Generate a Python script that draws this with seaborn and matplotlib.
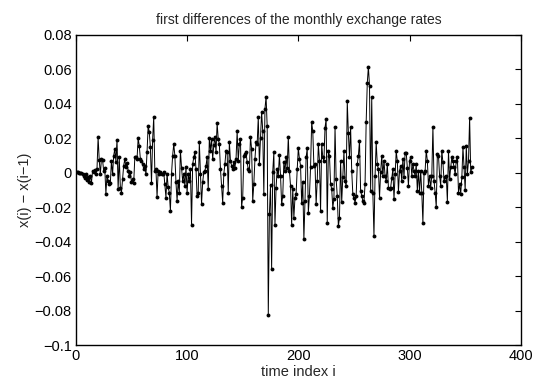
import numpy as np
import pandas as pd
import seaborn as sns
import matplotlib.pyplot as plt

# first differences, in units of 1e-3
d1 = [0.2, 0.4, -0.4, 0.0, -0.2, -0.8, -1.7, -3.1, -0.8, -4.3, -2.7, -5.1, -1.9, -6.0,
      0.8, 0.4, 1.6, -0.5, 2.0, 20.6, 7.5, -0.8, 8.0, 7.4, 1.2, 2.5, -12.1, -1.7, -4.7,
      -6.6, -6.0, 7.0, -1.0, 9.9, 13.8, 6.5, 19.2, -9.5]
d2 = [9.0, -8.6, -11.5, -3.7, 4.1, 8.0, 3.1, 5.5, 1.2, -1.7, 0.5, -5.6, -3.7, -6.0, 8.9,
      9.3, 8.0, 20.0, 15.7, 8.0, 7.0, 5.0, 2.1, 4.0, -0.8, 11.9, 27.4, 23.5, 14.8, -6.2,
      19.0, 32.3, 1.2, 2.0, -14.0, 1.2, -0.5, 0.3, -1.0, -0.8, 0.5, -6.6, -14.4, -0.5]
d3 = [-8.4, -11.5, -22.2, -0.8, 9.9, 16.7, 9.9, -5.6, -16.3, -4.7, -11.5, 12.8, 3.0, -4.7,
      -0.8, -7.6, 3.5, -11.5, -1.0, -5.0, 2.0, -30.3, 5.0, 8.9, 11.9, 2.1, -13.4, -11.5,
      17.7, -0.8, -18.1, -5.6, 0.2, 1.2, 4.1, 8.9, -9.5, 20.4, 12.8, 19.6, 8.0, 16.0, 21.0,
      12.0, 28.8]
d4 = [19.6, 16.7, 2.1, -7.6, -17.3, -0.8, 5.0, 12.8, 11.9, -11.5, 17.7, 7.0, 4.1, 2.0, 6.0,
      3.0, 8.0, 24.1, 7.0, 16.7, 19.6, -19.9, -14.4, 9.9, 10.9, 11.9, 6.0, 2.1, 1.2, 21.0,
      13.8, -16.3, -6.6, 8.0, 17.7, 16.7, 32.3, 5.0, 20.0, 35.2, 24.5, -12.4, 37.1, 44.1,
      27.0, -82.5, -24.0, -7.0, -56.0, 0.5]
d5 = [11.9, -30.3, -8.6, 2.0, -1.7, 10.3, -1.7, -18.3, -13.4, 6.0, 1.2, 8.9, 3.0, 21.0,
      1.2, -7.6, -30.3, -9.5, -26.0, -14.4, -12.4, 2.0, 14.4, 8.0, 4.1, -17.3, -5.6, -38.7,
      -16.3, 8.9, 14.2, -23.1, -13.4, 3.1, 29.2, 24.1, 4.1, 5.0, -18.3, -4.7, 16.7, 7.0]
d6 = [-22.2, 16.7, 8.9, 7.0, 26.2, 31.1, -29.3, 12.8, 9.9, -6.6, -9.5, -20.2, -15.4, 26.6,
      -3.7, -13.4, -31.1, -26.0, 7.0, -17.1, -2.7, 12.4, -4.7, -7.6, 41.4, 22.9, 8.9, 26.6,
      1.2, -12.4, -14.4, -17.3, -13.4, 5.0, 9.9, 18.7, -10.5, -13.4, -16.3, -17.3, -6.6,
      29.7, 52.1, 61.6]
d7 = [50.1, -10.5, 43.7, -11.5, -36.7, -1.7, 17.7, 5.0, 2.0, -14.4, 0.2, 9.9, -1.7, 7.0,
      -2.0, -4.7, 5.0, -8.6, -9.5, -8.6, -3.0, 2.1, -15.4, -0.8, 12.4, 7.0, -11.1, 1.2, 4.0,
      -4.7, 8.2, -2.7, 11.7, 11.7, 3.0, -7.6, 7.0, 8.9, -1.7, 5.0, 1.2, -2.0, 5.0, -10.5, 1.2]
d8 = [-11.5, 1.2, -11.5, -29.0, -0.2, 1.2, 12.8, 7.0, -7.6, -1.7, -8.6, -1.7, 26.6, -4.7,
      -11.5, -19.9, 10.9, 9.9, -1.7, -7.6, 12.8, 6.0, -4.7, -2.7, -1.7, -16.7, 12.8, -3.7,
      3.1, 8.9, 7.0, 3.1, -0.8, 7.0, 8.9, -11.5, -6.6, -12.1, -2.7, 14.8, 3.1, -10.1, 15.7,
      -0.8, 7.0, 31.9, 0.2, 3.1]

diffs = np.array(d1 + d2 + d3 + d4 + d5 + d6 + d7 + d8) / 1000.0
df = pd.DataFrame({"i": np.arange(1, len(diffs) + 1), "dx": diffs})

yticks = [-0.1, -0.08, -0.06, -0.04, -0.02, 0, 0.02, 0.04, 0.06, 0.08]
ylabels = ["\u22120.1", "\u22120.08", "\u22120.06", "\u22120.04", "\u22120.02", "0",
           "0.02", "0.04", "0.06", "0.08"]
xticks = [0, 100, 200, 300, 400]

sns.set_style("white")
plt.rcParams['font.family'] = ['Liberation Sans', 'DejaVu Sans']

fig = plt.figure(figsize=(5.38, 3.83), dpi=100)
ax = fig.add_axes([0.141, 0.099, 0.827, 0.810])

sns.lineplot(data=df, x="i", y="dx", color="black", linewidth=0.7,
             marker="o", markersize=2.8, markeredgewidth=0, ax=ax)

ax.set_xlim(0, 400)
ax.set_ylim(-0.1, 0.08)
ax.set_xticks(xticks)
ax.set_xticklabels([str(t) for t in xticks])
ax.set_yticks(yticks)
ax.set_yticklabels(ylabels)
ax.tick_params(direction="in", top=True, right=True, length=4, width=0.8,
               labelsize=10.5, colors="black", pad=3)
for s in ax.spines.values():
    s.set_color("black")
    s.set_linewidth(1.0)

ax.set_title("first differences of the monthly exchange rates", fontsize=10, pad=8)
ax.set_xlabel("time index i", fontsize=10.5, labelpad=1)
ax.set_ylabel("x(i) \u2212 x(i\u22121)", fontsize=10.5, labelpad=2)

fig.savefig("out.png", dpi=100)
